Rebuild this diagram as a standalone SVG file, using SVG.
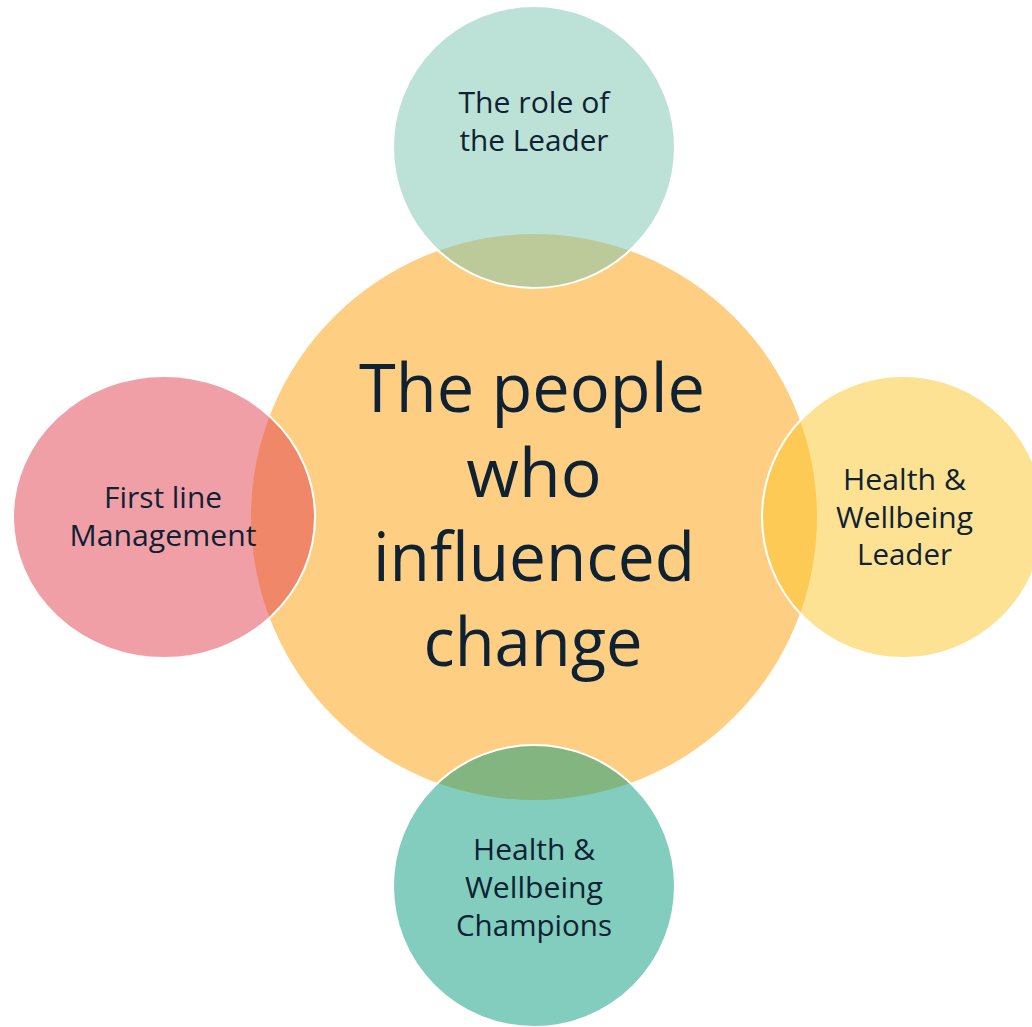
<svg xmlns="http://www.w3.org/2000/svg" width="1032" height="1027" viewBox="0 0 1032 1027">
<style>
.lbl{font-family:"Open Sans","Noto Sans","Liberation Sans",sans-serif;fill:#0E2233;text-anchor:middle}
.sm{font-size:29px}
.big{font-size:68px}
.sat{fill-opacity:0.5;stroke:#FFFFFF;stroke-width:2}
</style>
<rect x="0" y="0" width="1032" height="1027" fill="#FFFFFF"/>
<g id="center">
<circle cx="534" cy="517" r="283" fill="#FECF83"/>
</g>
<g id="top">
<circle class="sat" cx="534" cy="147" r="141" fill="#79C5B1"/>
<text class="lbl sm" x="534" y="113" textLength="151" lengthAdjust="spacingAndGlyphs">The role of</text>
<text class="lbl sm" x="534" y="151" textLength="149" lengthAdjust="spacingAndGlyphs">the Leader</text>
</g>
<g id="left">
<ellipse class="sat" cx="164" cy="517" rx="151" ry="141" fill="#E13F4F"/>
<text class="lbl sm" x="163" y="508" textLength="118" lengthAdjust="spacingAndGlyphs">First line</text>
<text class="lbl sm" x="163" y="546" textLength="187" lengthAdjust="spacingAndGlyphs">Management</text>
</g>
<g id="right">
<circle class="sat" cx="903" cy="517" r="141" fill="#FBC527"/>
<text class="lbl sm" x="904.5" y="490" textLength="123" lengthAdjust="spacingAndGlyphs">Health &amp;</text>
<text class="lbl sm" x="904.5" y="528" textLength="137" lengthAdjust="spacingAndGlyphs">Wellbeing</text>
<text class="lbl sm" x="904.5" y="565" textLength="95" lengthAdjust="spacingAndGlyphs">Leader</text>
</g>
<g id="bottom">
<circle class="sat" cx="534" cy="886" r="141" fill="#059B7B"/>
<text class="lbl sm" x="534" y="860" textLength="122" lengthAdjust="spacingAndGlyphs">Health &amp;</text>
<text class="lbl sm" x="534" y="898" textLength="138" lengthAdjust="spacingAndGlyphs">Wellbeing</text>
<text class="lbl sm" x="534" y="936" textLength="156" lengthAdjust="spacingAndGlyphs">Champions</text>
</g>
<g id="title">
<text class="lbl big" x="532" y="412" textLength="346" lengthAdjust="spacingAndGlyphs">The people</text>
<text class="lbl big" x="534" y="497">who</text>
<text class="lbl big" x="534" y="581" textLength="322" lengthAdjust="spacingAndGlyphs">influenced</text>
<text class="lbl big" x="533" y="666" textLength="219" lengthAdjust="spacingAndGlyphs">change</text>
</g>
</svg>
